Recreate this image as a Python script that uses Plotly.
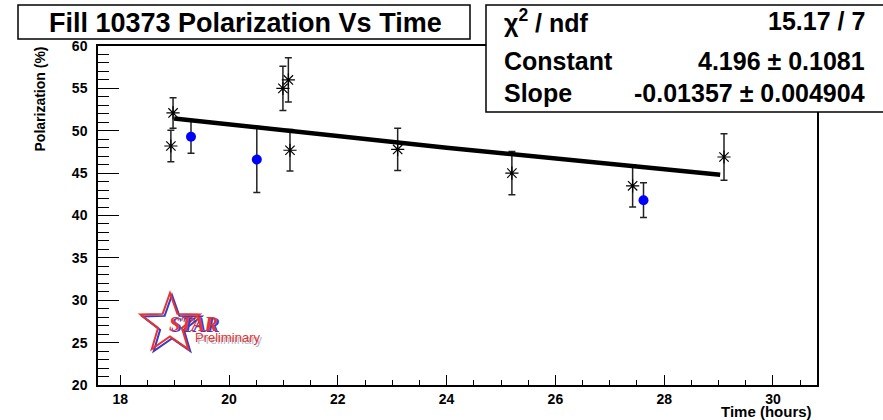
import math
import plotly.graph_objects as go

# ---------------- data ----------------
# series 1: black asterisks
t_black = [18.97, 18.93, 20.99, 21.09, 21.12, 23.10, 25.20, 27.42, 29.10]
p_black = [52.1, 48.2, 55.0, 56.0, 47.7, 47.8, 45.0, 43.5, 46.9]
e_black = [1.8, 1.85, 2.6, 2.6, 2.45, 2.5, 2.55, 2.5, 2.75]

# series 2: blue circles
t_blue = [19.30, 20.51, 27.62]
p_blue = [49.3, 46.6, 41.8]
e_blue = [1.95, 3.9, 2.05]

# exponential fit curve
fit_t = [18.99, 24.0, 29.03]
fit_p = [51.44, 48.0, 44.82]

# fit statistics box
stat_names = ["χ<sup>2</sup> / ndf", "Constant", "Slope"]
stat_values = ["15.17 / 7", "4.196 ± 0.1081", "-0.01357 ± 0.004904"]

title_text = "Fill 10373 Polarization Vs Time"
x_title = "Time (hours)"
y_title = "Polarization (%)"

x_ticks = [18, 20, 22, 24, 26, 28, 30]
y_ticks = [20, 25, 30, 35, 40, 45, 50, 55, 60]

# ---------------- layout helpers ----------------
W, H = 883, 420
L, T = 98, 46
R = W - 817
B = H - 385
PW = W - L - R
PH = H - T - B
FONT = "Liberation Sans, Arial, Helvetica, sans-serif"


def xp(px):
    return (px - L) / PW


def yp(py):
    return (H - B - py) / PH


fig = go.Figure()

fig.add_trace(go.Scatter(
    x=t_black, y=p_black, mode="markers",
    marker=dict(symbol="asterisk-open", size=11, color="black",
                line=dict(color="black", width=1.2)),
    error_y=dict(type="data", array=e_black, color="#222222",
                 thickness=1.5, width=3.5),
    showlegend=False, hoverinfo="skip"))

fig.add_trace(go.Scatter(
    x=t_blue, y=p_blue, mode="markers",
    marker=dict(symbol="circle", size=10, color="#0000ff"),
    error_y=dict(type="data", array=e_blue, color="#222222",
                 thickness=1.5, width=3.5),
    showlegend=False, hoverinfo="skip"))

fig.add_trace(go.Scatter(
    x=fit_t, y=fit_p, mode="lines",
    line=dict(color="black", width=4.5),
    showlegend=False, hoverinfo="skip"))

shapes = []
annotations = []

# title box
shapes.append(dict(type="rect", xref="paper", yref="paper",
                   x0=xp(18), x1=xp(470), y0=yp(39), y1=yp(5),
                   line=dict(color="black", width=1.5), fillcolor="white",
                   layer="above"))
annotations.append(dict(xref="paper", yref="paper", x=xp(245), y=yp(23),
                        text=title_text, showarrow=False,
                        xanchor="center", yanchor="middle",
                        font=dict(family=FONT, size=27, color="black",
                                  weight="bold")))

# stats box
shapes.append(dict(type="rect", xref="paper", yref="paper",
                   x0=xp(486), x1=xp(895), y0=yp(112), y1=yp(5),
                   line=dict(color="black", width=1.5), fillcolor="white",
                   layer="above"))
row_y = [21.5, 61, 93]
for name, val, ry in zip(stat_names, stat_values, row_y):
    annotations.append(dict(xref="paper", yref="paper", x=xp(502), y=yp(ry),
                            text=name, showarrow=False,
                            xanchor="left", yanchor="middle",
                            font=dict(family=FONT, size=25, color="black",
                                      weight="bold")))
    annotations.append(dict(xref="paper", yref="paper", x=xp(867), y=yp(ry),
                            text=val, showarrow=False,
                            xanchor="right", yanchor="middle",
                            font=dict(family=FONT, size=25, color="black",
                                      weight="bold")))

# axis titles
annotations.append(dict(xref="paper", yref="paper", x=xp(814), y=yp(411),
                        text=x_title, showarrow=False,
                        xanchor="right", yanchor="middle",
                        font=dict(family=FONT, size=15, color="black",
                                  weight="bold")))
annotations.append(dict(xref="paper", yref="paper", x=xp(39), y=yp(45),
                        text=y_title, showarrow=False, textangle=-90,
                        xanchor="center", yanchor="top",
                        font=dict(family=FONT, size=14, color="black",
                                  weight="bold")))

# STAR Preliminary logo (decoration)
def star_path(cx, cy, ro, ri):
    pts = []
    for k in range(10):
        ang = -math.pi / 2 + k * math.pi / 5
        r = ro if k % 2 == 0 else ri
        pts.append((xp(cx + r * math.cos(ang)), yp(cy + r * math.sin(ang))))
    d = "M " + " L ".join(f"{a:.5f},{b:.5f}" for a, b in pts) + " Z"
    return d

shapes.append(dict(type="path", xref="paper", yref="paper",
                   path=star_path(172, 326, 31, 12.5),
                   line=dict(color="#3a3ac8", width=2), layer="above"))
shapes.append(dict(type="path", xref="paper", yref="paper",
                   path=star_path(170, 324, 31, 12.5),
                   line=dict(color="#e8342c", width=2), layer="above"))
annotations.append(dict(xref="paper", yref="paper", x=xp(195), y=yp(325),
                        text="<i>STAR</i>", showarrow=False,
                        xanchor="center", yanchor="middle",
                        font=dict(family="Liberation Serif, Times New Roman, serif",
                                  size=20, color="#3a3ac8", weight="bold")))
annotations.append(dict(xref="paper", yref="paper", x=xp(193.5), y=yp(323.5),
                        text="<i>STAR</i>", showarrow=False,
                        xanchor="center", yanchor="middle",
                        font=dict(family="Liberation Serif, Times New Roman, serif",
                                  size=20, color="#e8342c", weight="bold")))
annotations.append(dict(xref="paper", yref="paper", x=xp(230), y=yp(339),
                        text="Preliminary", showarrow=False,
                        xanchor="center", yanchor="middle",
                        font=dict(family=FONT, size=13, color="#b8b8d0")))
annotations.append(dict(xref="paper", yref="paper", x=xp(228), y=yp(337),
                        text="Preliminary", showarrow=False,
                        xanchor="center", yanchor="middle",
                        font=dict(family=FONT, size=13, color="#e8342c")))

fig.update_layout(
    width=W, height=H,
    margin=dict(l=L, r=R, t=T, b=B, pad=0),
    paper_bgcolor="white", plot_bgcolor="white",
    shapes=shapes, annotations=annotations,
    showlegend=False,
    xaxis=dict(range=[17.59, 30.81], tickvals=x_ticks,
               ticks="inside", ticklen=10, tickwidth=1, tickcolor="black",
               minor=dict(dtick=0.5, tick0=18, ticks="inside", ticklen=5,
                          tickcolor="black", tickwidth=1),
               showline=True, linecolor="black", linewidth=1.5, mirror=True,
               showgrid=False, zeroline=False,
               tickfont=dict(family=FONT, size=14, color="black", weight="bold")),
    yaxis=dict(range=[20, 60], tickvals=y_ticks,
               ticks="inside", ticklen=21, tickwidth=1, tickcolor="black",
               minor=dict(dtick=1, tick0=20, ticks="inside", ticklen=11,
                          tickcolor="black", tickwidth=1),
               showline=True, linecolor="black", linewidth=1.5, mirror=True,
               showgrid=False, zeroline=False, ticklabelstandoff=6,
               tickfont=dict(family=FONT, size=14, color="black", weight="bold")),
)

fig.write_html(
    "out.html",
    config={"displayModeBar": False},
    post_script="document.body.style.margin='0';"
                "document.body.style.overflow='hidden';",
)
